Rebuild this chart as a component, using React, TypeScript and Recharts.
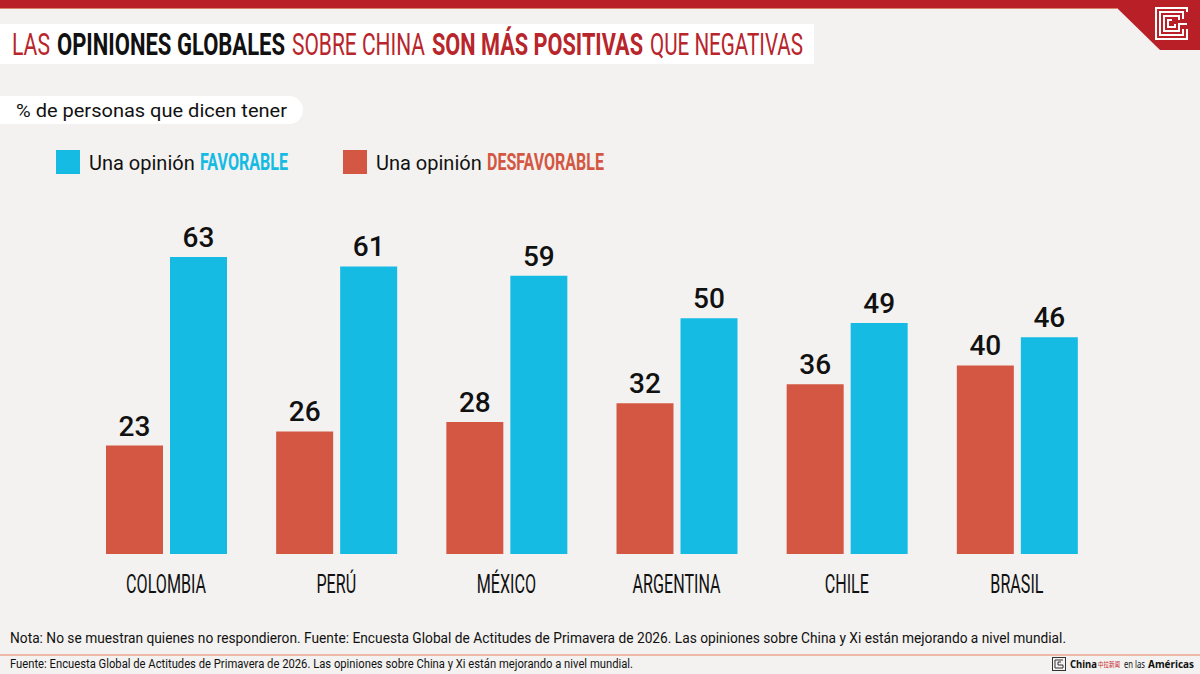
import React from 'react';
import { BarChart, Bar, XAxis, YAxis, LabelList } from 'recharts';

const categories = ['COLOMBIA', 'PERÚ', 'MÉXICO', 'ARGENTINA', 'CHILE', 'BRASIL'];
const favorable = [63, 61, 59, 50, 49, 46];
const desfavorable = [23, 26, 28, 32, 36, 40];

const data = categories.map((c, i) => ({ name: c, favorable: favorable[i], desfavorable: desfavorable[i] }));

const BG = '#f3f2f0';
const RED_TOP = '#b81f27';
const TITLE_RED = '#b8252b';
const BLUE = '#15bbe3';
const RED_BAR = '#d35742';

const titleParts = [
  { text: 'LAS', x: 12, w: 38, bold: false, color: TITLE_RED },
  { text: 'OPINIONES GLOBALES', x: 57, w: 228, bold: true, color: '#111' },
  { text: 'SOBRE CHINA', x: 292, w: 133, bold: false, color: TITLE_RED },
  { text: 'SON MÁS POSITIVAS', x: 432, w: 211, bold: true, color: TITLE_RED },
  { text: 'QUE NEGATIVAS', x: 650, w: 153, bold: false, color: TITLE_RED },
];

const Squeezed = (p: { x: number; y: number; w: number; s: number; size: number; weight?: number; fill: string; family?: string; children: React.ReactNode }) => (
  <text
    transform={`translate(${p.x},${p.y}) scale(${p.s},1)`}
    fontSize={p.size}
    fontWeight={p.weight || 400}
    fontFamily={p.family || 'Roboto'}
    fill={p.fill}
    textLength={p.w / p.s}
    lengthAdjust="spacingAndGlyphs"
  >
    {p.children}
  </text>
);

const CategoryTick = (props: any) => {
  const { x, y, payload } = props;
  return (
    <text
      transform={`translate(${x},${y + 39}) scale(0.62,1)`}
      textAnchor="middle"
      fontSize={26}
      fontWeight={400}
      fill="#111"
      fontFamily="Roboto"
    >
      {payload.value}
    </text>
  );
};

export default function App() {
  return (
    <div style={{ position: 'absolute', left: 0, top: 0, width: 1200, height: 674, background: BG, overflow: 'hidden', fontFamily: 'Roboto' }}>
      <svg width={1200} height={674} style={{ position: 'absolute', left: 0, top: 0 }}>
        {/* top band */}
        <rect x={0} y={0} width={1200} height={8} fill={RED_TOP} />
        <polygon points="1117,8 1160,50 1200,50 1200,8" fill={RED_TOP} />
        <line x1={0} y1={8.5} x2={1117} y2={8.5} stroke="#d9826c" strokeWidth={1} />
        {/* logo meander */}
        <g fill="none" stroke="#fff" strokeWidth={2}>
          <path d="M1187,12 L1187,8 L1156,8 L1156,39 L1187,39 L1187,29" />
          <path d="M1183,29 L1183,35 L1160,35 L1160,12 L1183,12 L1183,19" />
          <path d="M1187,24 L1179,24 L1179,31 L1164,31 L1164,16 L1179,16 L1179,20" />
          <path d="M1175,24 L1175,27 L1168,27 L1168,20 L1172,20" />
        </g>
        {/* title */}
        <rect x={0} y={24} width={814} height={40} fill="#ffffff" />
        {titleParts.map((p) => (
          <Squeezed key={p.text} x={p.x} y={54.5} w={p.w} s={p.bold ? 0.66 : 0.72} size={31} weight={p.bold ? 700 : 400} fill={p.color}>
            {p.text}
          </Squeezed>
        ))}
        {/* subtitle pill */}
        <rect x={-20} y={96} width={323} height={28} rx={14} fill="#ffffff" />
        <text x={16} y={117} fontSize={19} fontFamily="Roboto" fill="#111" textLength={271} lengthAdjust="spacingAndGlyphs">% de personas que dicen tener</text>
        {/* legend */}
        <rect x={56} y={150} width={24} height={24} fill={BLUE} />
        <text x={89} y={170} fontSize={20} fontFamily="Roboto" fill="#111">Una opinión</text>
        <Squeezed x={200} y={170} w={88} s={0.7} size={24} weight={700} fill={BLUE}>FAVORABLE</Squeezed>
        <rect x={343} y={150} width={24} height={24} fill={RED_BAR} />
        <text x={376} y={170} fontSize={20} fontFamily="Roboto" fill="#111">Una opinión</text>
        <Squeezed x={487} y={170} w={117} s={0.7} size={24} weight={700} fill={RED_BAR}>DESFAVORABLE</Squeezed>
        {/* notes */}
        <text x={10} y={643} fontSize={15} fontFamily="Roboto" fill="#111" textLength={1056} lengthAdjust="spacingAndGlyphs">Nota: No se muestran quienes no respondieron. Fuente: Encuesta Global de Actitudes de Primavera de 2026. Las opiniones sobre China y Xi están mejorando a nivel mundial.</text>
        <line x1={0} y1={655} x2={1200} y2={655} stroke="#eba58c" strokeWidth={1.5} />
        <text x={10} y={668} fontSize={12} fontFamily="Roboto" fill="#111" textLength={623} lengthAdjust="spacingAndGlyphs">Fuente: Encuesta Global de Actitudes de Primavera de 2026. Las opiniones sobre China y Xi están mejorando a nivel mundial.</text>
        {/* footer logo */}
        <g fill="none" stroke="#333" strokeWidth={1}>
          <rect x={1052.5} y={657.5} width={13} height={13} />
          <path d="M1063,660 L1055,660 L1055,668 L1063,668 L1063,665 L1058,665 L1058,662 L1061,662" />
        </g>
        <Squeezed x={1070} y={668} w={27} s={0.85} size={10.5} weight={700} family="Noto Sans" fill="#111">China</Squeezed>
        <Squeezed x={1098} y={667} w={22} s={0.85} size={7} family="Noto Sans CJK SC" fill="#c8262b">中拉新闻</Squeezed>
        <Squeezed x={1124} y={668} w={21} s={0.85} size={10.5} family="Noto Sans" fill="#111">en las</Squeezed>
        <Squeezed x={1148} y={668} w={46} s={0.85} size={10.5} weight={700} family="Noto Sans" fill="#111">Américas</Squeezed>
      </svg>
      <div style={{ position: 'absolute', left: 0, top: 0 }}>
        <BarChart
          width={1200}
          height={674}
          data={data}
          margin={{ top: 224, right: 98, bottom: 60, left: 81 }}
          barSize={57}
          barGap={7}
        >
          <XAxis
            dataKey="name"
            axisLine={false}
            tickLine={false}
            tickSize={0}
            tickMargin={0}
            height={60}
            interval={0}
            tick={<CategoryTick />}
          />
          <YAxis hide domain={[0, 70]} />
          <Bar dataKey="desfavorable" fill={RED_BAR} isAnimationActive={false}>
            <LabelList dataKey="desfavorable" position="top" offset={10} fill="#111" fontSize={28} fontWeight={500} fontFamily="Roboto" />
          </Bar>
          <Bar dataKey="favorable" fill={BLUE} isAnimationActive={false}>
            <LabelList dataKey="favorable" position="top" offset={10} fill="#111" fontSize={28} fontWeight={500} fontFamily="Roboto" />
          </Bar>
        </BarChart>
      </div>
    </div>
  );
}
